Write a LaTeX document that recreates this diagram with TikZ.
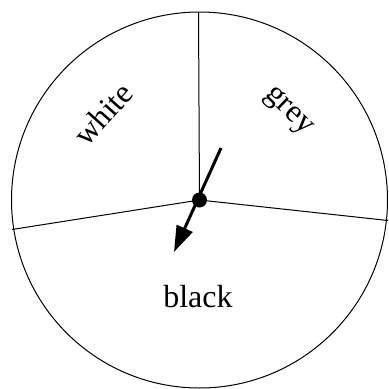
\documentclass[tikz,border=0pt]{standalone}
\usepackage{fontspec}
\setmainfont{Liberation Serif}
\usetikzlibrary{arrows.meta}
\begin{document}
\begin{tikzpicture}[x=1pt,y=-1pt,
  rim/.style={line width=1pt},
  divider/.style={line width=1pt},
  pointer/.style={line width=3pt,-{Triangle[length=26pt,width=17pt]}},
  lab/.style={font=\fontsize{32}{36}\selectfont,inner sep=0pt}]
\useasboundingbox (0,0) rectangle (389,389);
\coordinate (c) at (199.5,200);
\draw[rim] (c) circle[radius=188];
\coordinate (top) at (198.5,12);
\coordinate (right) at (388,220.5);
\coordinate (left) at (12,229.5);
\draw[divider] (c) -- (top);
\draw[divider] (c) -- (right);
\draw[divider] (c) -- (left);
\coordinate (tail) at (221,148);
\coordinate (tip) at (174,252);
\draw[pointer] (tail) -- (tip);
\fill (c) circle[radius=7.5];
\node[lab,rotate=48] (white) at (103,114) {white};
\node[lab,rotate=-44] (grey) at (288,112) {grey};
\node[lab] (black) at (198,297) {black};
\end{tikzpicture}
\end{document}
